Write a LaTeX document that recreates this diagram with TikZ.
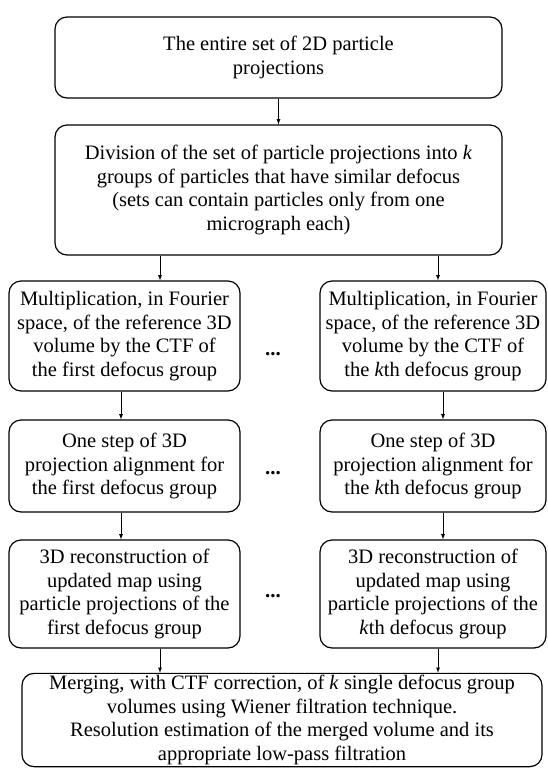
\documentclass[tikz,border=0pt]{standalone}
\usepackage{fontspec}
\setmainfont{Liberation Serif}
\usetikzlibrary{arrows}

\begin{document}
\begin{tikzpicture}[x=1pt,y=-1pt,>=latex,
        box/.style={draw,line width=1.2pt,rounded corners=12pt,align=center,inner sep=2pt,
                    font=\fontsize{20.5}{23.5}\selectfont},
        wide/.style={box,minimum width=447pt},
        colA/.style={box,minimum width=231pt},
        colK/.style={box,minimum width=226pt},
        dots/.style={font=\fontsize{21}{24}\selectfont\bfseries},
        flow/.style={->,line width=0.8pt}]
    \useasboundingbox (0,0) rectangle (547,772);

    \node[wide,minimum height=81pt]  (all) at (278.5,57.5)  {The entire set of 2D particle\\ projections};
    \node[wide,minimum height=130pt] (div) at (278.5,190) {Division of the set of particle projections into \textit{k}\\
        groups of particles that have similar defocus\\ (sets can contain particles only from one\\ micrograph each)};

    \node[colA,minimum height=110pt] (mulA) at (124.5,336) {Multiplication, in Fourier\\ space, of the reference 3D\\ volume by the CTF of\\ the first defocus group};
    \node[colK,minimum height=110pt] (mulK) at (433,336)   {Multiplication, in Fourier\\ space, of the reference 3D\\ volume by the CTF of\\ the \textit{k}th defocus group};
    \node[dots] (dots1) at (273,354) {...};

    \node[colA,minimum height=92pt] (alignA) at (124.5,466) {One step of 3D\\ projection alignment for\\ the first defocus group};
    \node[colK,minimum height=92pt] (alignK) at (433,466)   {One step of 3D\\ projection alignment for\\ the \textit{k}th defocus group};
    \node[dots] (dots2) at (273,473) {...};

    \node[colA,minimum height=108pt] (recA) at (124.5,594) {3D reconstruction of\\ updated map using\\ particle projections of the\\ first defocus group};
    \node[colK,minimum height=108pt] (recK) at (433,594)   {3D reconstruction of\\ updated map using\\ particle projections of the\\ \textit{k}th defocus group};
    \node[dots] (dots3) at (273,596) {...};

    \node[box,minimum width=520pt,minimum height=92pt] (merge) at (282,720) {Merging, with CTF correction, of \textit{k} single defocus group\\
        volumes using Wiener filtration technique.\\ Resolution estimation of the merged volume and its\\ appropriate low-pass filtration};

    % columns of the arrows
    \coordinate (outA) at (160,0);
    \coordinate (outK) at (438,0);
    \coordinate (midA) at (121,0);
    \coordinate (midK) at (443,0);

    \path[flow] (all) edge (div)
        (div.south -| outA) edge (mulA.north -| outA)
        (div.south -| outK) edge (mulK.north -| outK)
        (mulA.south -| midA) edge (alignA.north -| midA)
        (mulK.south -| midK) edge (alignK.north -| midK)
        (alignA.south -| midA) edge (recA.north -| midA)
        (alignK.south -| midK) edge (recK.north -| midK)
        (recA.south -| outA) edge (merge.north -| outA)
        (recK.south -| outK) edge (merge.north -| outK);
\end{tikzpicture}
\end{document}
